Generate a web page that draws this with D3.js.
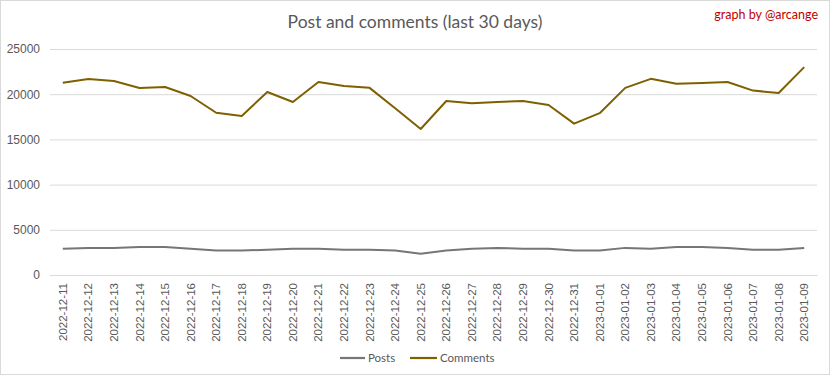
<!DOCTYPE html>
<html><head><meta charset="utf-8">
<script src="https://cdn.jsdelivr.net/npm/d3@7/dist/d3.min.js"></script>
<style>body{margin:0;background:#fff}svg{display:block;font-family:Lato,"Open Sans",sans-serif}</style>
</head><body><svg id="c" width="832" height="378"></svg>
<script>
const dates=["2022-12-11","2022-12-12","2022-12-13","2022-12-14","2022-12-15","2022-12-16","2022-12-17","2022-12-18","2022-12-19","2022-12-20","2022-12-21","2022-12-22","2022-12-23","2022-12-24","2022-12-25","2022-12-26","2022-12-27","2022-12-28","2022-12-29","2022-12-30","2022-12-31","2023-01-01","2023-01-02","2023-01-03","2023-01-04","2023-01-05","2023-01-06","2023-01-07","2023-01-08","2023-01-09"];
const posts=[2900,3000,3000,3100,3100,2900,2700,2700,2800,2900,2900,2800,2800,2700,2350,2700,2900,3000,2900,2900,2700,2700,3000,2900,3100,3100,3000,2800,2800,3000];
const comments=[21270,21680,21460,20690,20800,19800,17950,17600,20240,19140,21350,20900,20700,18450,16150,19250,19000,19140,19250,18800,16740,17900,20700,21700,21160,21240,21350,20400,20130,23000];
const yTicks=[0,5000,10000,15000,20000,25000];
const seriesNames=["Posts","Comments"];
const colors=["#767676","#7f6000"];

const svg=d3.select("#c");
svg.append("rect").attr("x",0.5).attr("y",0.5).attr("width",829).attr("height",374).attr("fill","#fff").attr("stroke","#d9d9d9");
const L=50,R=817,T=49,B=275;
const x=d3.scaleBand().domain(dates).range([L,R]);
const y=d3.scaleLinear().domain([0,25000]).range([B,T]);

const gy=svg.append("g").attr("transform",`translate(${L},0)`).call(d3.axisLeft(y).tickValues(yTicks).tickSize(-(R-L)).tickFormat(d3.format("d")));
gy.select(".domain").remove();
gy.selectAll("line").attr("stroke","#d9d9d9");
gy.selectAll("text").attr("fill","#595959").attr("font-size",12).attr("x",-10);

const gx=svg.append("g").attr("transform",`translate(0,${B})`).call(d3.axisBottom(x).tickSize(0));
gx.select(".domain").attr("stroke","#d9d9d9");
gx.selectAll("text").attr("fill","#595959").attr("font-size",11.5)
  .attr("transform","rotate(-90)").attr("text-anchor","end").attr("x",-8).attr("y",0).attr("dy","0.35em");

const line=d3.line().x((d,i)=>x(dates[i])+x.bandwidth()/2).y(d=>y(d));
[posts,comments].forEach((s,k)=>{
  svg.append("path").datum(s).attr("d",line).attr("fill","none").attr("stroke",colors[k]).attr("stroke-width",2).attr("stroke-linejoin","round");
});

svg.append("text").attr("x",415).attr("y",28).attr("text-anchor","middle").attr("fill","#595959").attr("font-size",17.5).text("Post and comments (last 30 days)");
svg.append("text").attr("x",818).attr("y",19).attr("text-anchor","end").attr("fill","#c00000").attr("font-size",12.5).text("graph by @arcange");

const leg=[{x:340,w:25},{x:410,w:27}];
seriesNames.forEach((n,k)=>{
  svg.append("line").attr("x1",leg[k].x).attr("x2",leg[k].x+leg[k].w).attr("y1",358).attr("y2",358).attr("stroke",colors[k]).attr("stroke-width",2.2);
  svg.append("text").attr("x",leg[k].x+leg[k].w+3).attr("y",362).attr("fill","#595959").attr("font-size",11.5).text(n);
});
</script></body></html>
